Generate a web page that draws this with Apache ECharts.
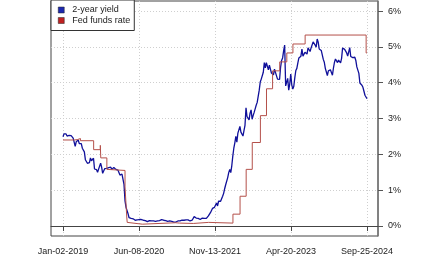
<!DOCTYPE html>
<html><head><meta charset="utf-8">
<script src="https://cdn.jsdelivr.net/npm/echarts@6/dist/echarts.min.js"></script>
<style>html,body{margin:0;padding:0;background:#fff}#c{width:430px;height:258px}</style>
</head><body><div id="c"></div>
<script>
// 2-year Treasury yield, weekly (Wednesdays) starting 2019-01-02
const yieldStart = '2019-01-02';
const y2019 = [2.49,2.57,2.56,2.57,2.51, 2.52,2.53,2.51,2.52, 2.50,2.45,2.40,2.22, 2.35,2.34,2.40,2.30,
  2.31,2.30,2.17,2.22,2.07, 1.85,1.88,1.75,1.76, 1.77,1.90,1.82,1.83,1.89, 1.59,1.58,1.57,1.50,
  1.45,1.67,1.75,1.64, 1.47,1.47,1.60,1.59,1.61, 1.64,1.63,1.58,1.64, 1.58,1.61,1.63,1.63];
const y2020 = [1.58,1.58,1.56,1.53,1.42, 1.44,1.45,1.42,1.16, 0.70,0.52,0.54,0.34, 0.23,0.26,0.21,0.21,0.20,
  0.19,0.16,0.17,0.17, 0.20,0.18,0.19,0.18, 0.17,0.16,0.16,0.15,0.14, 0.12,0.16,0.15,0.16,
  0.14,0.14,0.14,0.14,0.13, 0.16,0.14,0.15,0.15, 0.15,0.18,0.17,0.16, 0.16,0.15,0.13,0.13,0.12];
const y2021 = [0.14,0.15,0.13,0.12, 0.11,0.11,0.11,0.12, 0.14,0.15,0.14,0.14,0.16, 0.16,0.16,0.16,0.17,
  0.16,0.17,0.16,0.14, 0.15,0.16,0.21,0.26,0.25, 0.22,0.23,0.21,0.20, 0.18,0.22,0.22,0.22,
  0.21,0.21,0.21,0.24,0.28, 0.29,0.37,0.40,0.49, 0.46,0.52,0.51,0.64, 0.56,0.69,0.66,0.69,0.76];
const y2022 = [0.83,0.91,1.04,1.15, 1.16,1.35,1.49,1.58, 1.49,1.68,1.95,2.17,2.32, 2.50,2.34,2.59,2.59,
  2.78,2.62,2.67,2.51, 2.66,2.81,3.30,3.05,3.06, 2.96,3.15,3.24,2.98, 3.08,3.17,3.27,3.37,3.45,
  3.43,3.79,4.02,4.10, 4.14,4.29,4.56,4.41, 4.56,4.57,4.36,4.49,4.38, 4.27,4.22,4.22,4.38];
const y2023 = [4.37,4.19,4.10,4.14, 4.09,4.43,4.62,4.69, 4.89,5.05,3.91,3.95,4.12, 3.79,3.96,4.24,3.94,
  3.82,3.90,4.14,4.34,4.40, 4.55,4.69,4.73,4.74, 4.94,4.74,4.77,4.85, 4.88,4.80,4.97,4.96,4.87,
  4.97,5.02,5.14,5.11, 5.05,4.99,5.22,5.13, 4.94,4.93,4.90,4.90,4.65, 4.57,4.40,4.36,4.20];
const y2024 = [4.33,4.36,4.36,4.37,4.21, 4.41,4.57,4.66,4.65, 4.56,4.63,4.61,4.55, 4.68,4.97,4.93,4.93,
  4.95,4.83,4.74,4.86,4.98, 4.73,4.70,4.70,4.74, 4.71,4.62,4.44,4.40,4.26, 3.99,3.94,3.93,3.87,
  3.76,3.65,3.60,3.55];

// Effective fed funds rate, change dates
const ffDates = ['2019-01-02','2019-03-20','2019-04-10','2019-05-02','2019-08-01','2019-09-16','2019-09-17',
  '2019-09-19','2019-10-31','2019-11-04','2020-03-04','2020-03-16','2020-03-19','2020-04-01','2020-07-01',
  '2021-02-15','2021-03-15','2021-06-17','2021-10-01','2022-03-17','2022-05-05','2022-06-16','2022-07-28',
  '2022-09-22','2022-11-03','2022-12-15','2023-02-02','2023-03-23','2023-05-04','2023-07-27','2024-09-19','2024-09-25'];
const ffValues = [2.40,2.41,2.44,2.38,2.13,2.25,2.30,
  1.90,1.58,1.55,1.09,0.25,0.10,0.05,0.09,
  0.08,0.07,0.10,0.08,0.33,0.83,1.58,2.33,
  3.08,3.83,4.33,4.58,4.83,5.08,5.33,4.83,4.83];

const tickDates = ['2019-01-02','2020-06-08','2021-11-13','2023-04-20','2024-09-25'];
const tickLabels = ['Jan-02-2019','Jun-08-2020','Nov-13-2021','Apr-20-2023','Sep-25-2024'];
const yTicks = [0,1,2,3,4,5,6];
const yTickLabels = ['0%','1%','2%','3%','4%','5%','6%'];

const DAY = 86400000;
const t0 = Date.parse(yieldStart);
const yieldValues = [].concat(y2019, y2020, y2021, y2022, y2023, y2024);
const yieldData = yieldValues.map((v, i) => [t0 + i * 7 * DAY, v]);
const ffData = ffDates.map((d, i) => [Date.parse(d), ffValues[i]]);
const tickVals = tickDates.map(d => Date.parse(d));

const chart = echarts.init(document.getElementById('c'), null, {renderer: 'canvas'});
const font = 'Liberation Sans, Arial, sans-serif';
chart.setOption({
  animation: false,
  backgroundColor: '#fff',
  grid: {left: 51, right: 52, top: 1, bottom: 22, show: true, borderColor: '#444', borderWidth: 1, containLabel: false},
  legend: {
    orient: 'vertical', left: 51, top: 0, padding: [5, 4, 5, 7], itemGap: 0.5,
    backgroundColor: '#fff', borderColor: '#333', borderWidth: 1, borderRadius: 0,
    icon: 'rect', itemWidth: 6, itemHeight: 6,
    textStyle: {fontFamily: font, fontSize: 9, color: '#222', lineHeight: 10, padding: [0, 0, 0, 3]},
    data: [
      {name: '2-year yield', itemStyle: {color: '#1c28b0', borderColor: '#222', borderWidth: 0.5}},
      {name: 'Fed funds rate', itemStyle: {color: '#c02020', borderColor: '#222', borderWidth: 0.5}}
    ]
  },
  xAxis: {
    type: 'value',
    min: tickVals[0] - 82.6 * DAY,
    max: tickVals[4] + 75.7 * DAY,
    axisLine: {show: true, lineStyle: {color: '#444', width: 1}},
    axisTick: {show: true, length: 5, lineStyle: {color: '#444'}, customValues: tickVals},
    axisLabel: {
      customValues: tickVals, fontFamily: font, fontSize: 9, color: '#222', margin: 11,
      showMinLabel: true, showMaxLabel: true,
      formatter: v => { const i = tickVals.indexOf(v); return i >= 0 ? tickLabels[i] : ''; }
    },
    splitLine: {show: true, lineStyle: {color: '#cfcfcf', type: [1, 2], width: 1}}
  },
  yAxis: {
    type: 'value', position: 'right', min: -0.28, max: 6.28,
    axisLine: {show: true, lineStyle: {color: '#777', width: 1.5}},
    axisTick: {show: true, length: 5, lineStyle: {color: '#555'}, customValues: yTicks},
    axisLabel: {
      customValues: yTicks, fontFamily: font, fontSize: 9, color: '#222', margin: 10,
      formatter: v => { const i = yTicks.indexOf(v); return i >= 0 ? yTickLabels[i] : ''; }
    },
    splitLine: {show: true, lineStyle: {color: '#cfcfcf', type: [1, 2], width: 1}}
  },
  series: [
    {
      name: '2-year yield', type: 'line', data: yieldData, showSymbol: false, symbol: 'none',
      itemStyle: {color: '#1c28b0'}, lineStyle: {color: '#10109a', width: 1.3}, z: 2
    },
    {
      name: 'Fed funds rate', type: 'line', data: ffData, step: 'end', showSymbol: false, symbol: 'none',
      itemStyle: {color: '#c02020'}, lineStyle: {color: '#b4504a', width: 1}, z: 3
    }
  ]
});
</script></body></html>
